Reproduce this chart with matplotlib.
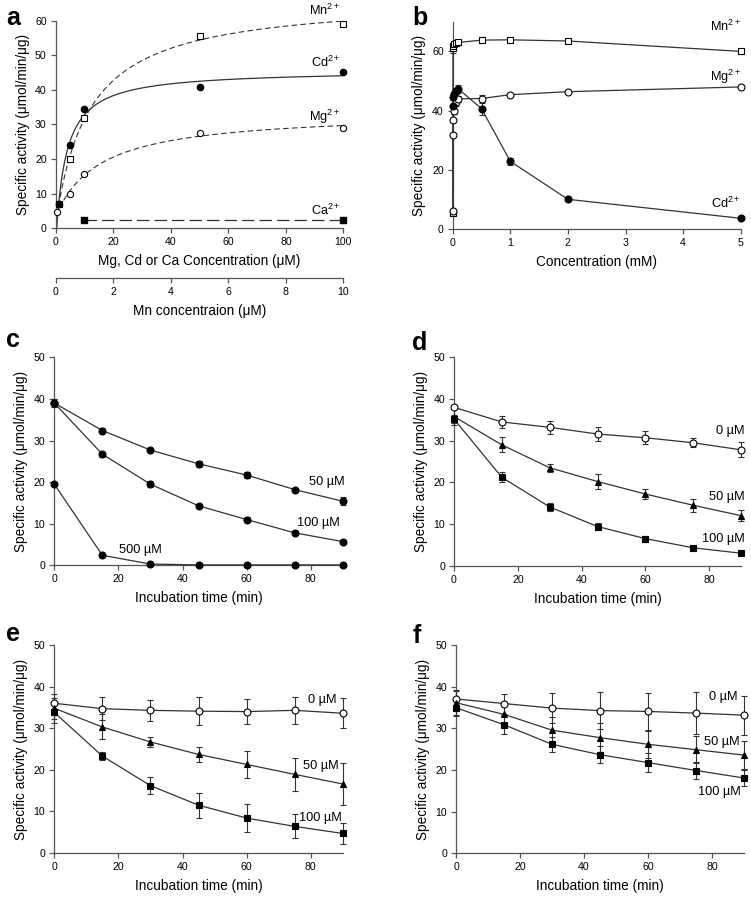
import numpy as np
import matplotlib
matplotlib.use("Agg")
import matplotlib.pyplot as plt

plt.rcParams['font.family'] = ['Liberation Sans', 'DejaVu Sans']
plt.rcParams['mathtext.fontset'] = 'custom'
plt.rcParams['mathtext.rm'] = 'Liberation Sans'
plt.rcParams['mathtext.it'] = 'Liberation Sans'

# ---------------- Data ----------------
# Panel a (Mg/Cd/Ca in uM; Mn in its own uM scale, 10x smaller)
a_mn_conc = [0.1, 0.5, 1, 5, 10]
a_mn_act = [7.0, 20.0, 32.0, 55.5, 59.0]
a_cd_conc = [1, 5, 10, 50, 100]
a_cd_act = [7.0, 24.0, 34.5, 40.7, 45.2]
a_mg_conc = [0.5, 5, 10, 50, 100]
a_mg_act = [4.8, 10.0, 15.7, 27.5, 29.0]
a_ca_conc = [10, 100]
a_ca_act = [2.5, 2.5]

# Panel b (mM)
b_mn_conc = [0, 0.005, 0.01, 0.02, 0.05, 0.1, 0.5, 1, 2, 5]
b_mn_act = [5.6, 61.0, 61.7, 62.5, 62.8, 63.0, 63.8, 63.9, 63.5, 60.0]
b_mn_err = [0.3, 1.5, 1.0, 0.8, 0.8, 1.0, 1.0, 0.3, 0.3, 0.8]
b_mg_conc = [0, 0.005, 0.01, 0.02, 0.05, 0.1, 0.5, 1, 2, 5]
b_mg_act = [6.3, 31.8, 36.7, 39.8, 43.0, 44.0, 44.1, 45.4, 46.4, 48.0]
b_mg_err = [0.3, 0.5, 0.5, 0.8, 1.5, 1.0, 1.2, 0.3, 0.3, 0.3]
b_cd_conc = [0.005, 0.01, 0.02, 0.05, 0.1, 0.5, 1, 2, 5]
b_cd_act = [41.7, 44.5, 45.6, 46.5, 47.3, 40.7, 22.9, 10.1, 3.7]
b_cd_err = [0.5, 0.8, 0.8, 1.0, 1.5, 2.0, 1.3, 0.3, 0.3]

time = [0, 15, 30, 45, 60, 75, 90]

# Panel c
c_50 = [39.0, 32.4, 27.7, 24.4, 21.7, 18.2, 15.4]
c_50_err = [1.0, 0.5, 0.4, 0.7, 0.7, 0.5, 0.9]
c_100 = [39.0, 26.7, 19.5, 14.3, 11.0, 7.8, 5.7]
c_100_err = [1.0, 0.6, 0.7, 0.4, 0.6, 0.3, 0.3]
c_500 = [19.5, 2.4, 0.3, 0.1, 0.1, 0.1, 0.1]
c_500_err = [0.3, 0.2, 0.1, 0.1, 0.1, 0.1, 0.1]

# Panel d
d_0 = [38.0, 34.5, 33.2, 31.6, 30.7, 29.5, 27.8]
d_0_err = [0.5, 1.4, 1.6, 1.6, 1.6, 1.1, 1.8]
d_50 = [35.8, 29.0, 23.5, 20.2, 17.2, 14.5, 12.0]
d_50_err = [2.0, 1.8, 0.9, 1.7, 1.3, 1.5, 1.3]
d_100 = [35.2, 21.2, 14.1, 9.4, 6.5, 4.3, 3.0]
d_100_err = [1.0, 1.2, 1.0, 0.9, 0.7, 0.5, 0.5]

# Panel e
e_0 = [36.0, 34.7, 34.3, 34.1, 34.0, 34.3, 33.6]
e_0_err = [2.2, 2.8, 2.5, 3.3, 3.0, 3.2, 3.6]
e_50 = [34.8, 30.3, 26.7, 23.7, 21.3, 18.9, 16.6]
e_50_err = [2.5, 3.0, 1.3, 1.8, 3.2, 3.9, 5.1]
e_100 = [33.8, 23.3, 16.2, 11.5, 8.4, 6.4, 4.7]
e_100_err = [2.5, 0.9, 2.0, 3.0, 3.4, 2.9, 2.6]

# Panel f
f_0 = [37.1, 36.0, 34.9, 34.3, 34.1, 33.7, 33.2]
f_0_err = [2.0, 2.4, 3.6, 4.5, 4.5, 5.0, 4.7]
f_50 = [36.2, 33.4, 29.6, 27.8, 26.2, 24.9, 23.6]
f_50_err = [3.0, 2.8, 3.2, 3.5, 3.3, 3.3, 3.3]
f_100 = [35.0, 30.9, 26.2, 23.7, 21.8, 19.9, 18.1]
f_100_err = [2.0, 2.3, 1.8, 2.0, 2.2, 2.1, 2.0]

conc_labels = ["0 µM", "50 µM", "100 µM"]
ylabel = "Specific activity (\u03bcmol/min/\u03bcg)"

# ---------------- Style ----------------
LC = '#333333'
AX_C = '#555555'
TICK_FS = 7.6
LAB_FS = 9.8
ANN_FS = 9.2
LET_FS = 18
MS = 5

fig = plt.figure(figsize=(7.51, 8.98), dpi=100)


def style(ax):
    for s in ('top', 'right'):
        ax.spines[s].set_visible(False)
    for s in ('left', 'bottom'):
        ax.spines[s].set_color(AX_C)
        ax.spines[s].set_linewidth(0.9)
    ax.tick_params(direction='out', length=3.5, width=0.9, color=AX_C,
                   labelsize=TICK_FS, pad=3)


def mm_fit(x, y):
    x = np.asarray(x, float)
    y = np.asarray(y, float)
    best = None
    for km in np.linspace(0.5, 60, 600):
        A = np.column_stack([np.ones_like(x), x / (km + x)])
        coef, *_ = np.linalg.lstsq(A, y, rcond=None)
        r = np.sum((A @ coef - y) ** 2)
        if best is None or r < best[0]:
            best = (r, km, coef)
    _, km, coef = best
    xs = np.linspace(0, 100, 400)
    return xs, coef[0] + coef[1] * xs / (km + xs)


def series(ax, x, y, err, marker, fc, ms=MS):
    cont = ax.errorbar(x, y, yerr=err, color=LC, lw=0.9, marker=marker, ms=ms,
                       mfc=fc, mec='black', mew=0.8, ecolor=LC, elinewidth=0.8,
                       capsize=2.5, capthick=0.8, zorder=3)
    for art in cont.get_children():
        art.set_clip_on(False)


# ---------------- Panel a ----------------
axa = fig.add_axes([0.0742, 0.7458, 0.3830, 0.2312])
style(axa)
mn_x = np.asarray(a_mn_conc) * 10  # Mn scale is 10x the main scale
xs, ys = mm_fit(mn_x, a_mn_act)
axa.plot(xs, ys, color=LC, lw=0.8, ls=(0, (5, 3)))
xs, ys = mm_fit(a_cd_conc, a_cd_act)
axa.plot(xs, ys, color=LC, lw=0.9, ls='-')
xs, ys = mm_fit(a_mg_conc, a_mg_act)
axa.plot(xs, ys, color=LC, lw=0.8, ls=(0, (5, 3)))
axa.plot(a_ca_conc, a_ca_act, color=LC, lw=0.9, ls=(0, (10, 4)),
         marker='s', ms=4.5, mfc='black', mec='black', clip_on=False)
axa.plot(mn_x, a_mn_act, ls='none', marker='s', ms=4.5, mfc='white', mec='black', mew=0.8,
         zorder=4, clip_on=False)
axa.plot(a_cd_conc, a_cd_act, ls='none', marker='o', ms=4.5, mfc='black', mec='black',
         zorder=4, clip_on=False)
axa.plot(a_mg_conc, a_mg_act, ls='none', marker='o', ms=4.5, mfc='white', mec='black', mew=0.8,
         zorder=4, clip_on=False)
axa.set_xlim(0, 100)
axa.set_ylim(0, 60)
axa.set_xticks(range(0, 101, 20))
axa.set_yticks(range(0, 61, 10))
axa.set_xlabel("Mg, Cd or Ca Concentration (\u03bcM)", fontsize=LAB_FS, labelpad=5)
axa.set_ylabel(ylabel, fontsize=LAB_FS)
axa.text(99, 63, "Mn$^{2+}$", ha='right', va='center', fontsize=ANN_FS, clip_on=False)
axa.text(99, 48, "Cd$^{2+}$", ha='right', va='center', fontsize=ANN_FS)
axa.text(99, 32.3, "Mg$^{2+}$", ha='right', va='center', fontsize=ANN_FS)
axa.text(99, 5.3, "Ca$^{2+}$", ha='right', va='center', fontsize=ANN_FS)
sec = axa.secondary_xaxis(-0.239, functions=(lambda v: v / 10, lambda v: v * 10))
sec.set_xticks(range(0, 11, 2))
sec.spines['bottom'].set_color(AX_C)
sec.spines['bottom'].set_linewidth(0.9)
sec.tick_params(direction='out', length=3.5, width=0.9, color=AX_C, labelsize=TICK_FS, pad=3)
sec.set_xlabel("Mn concentraion (\u03bcM)", fontsize=LAB_FS, labelpad=5)

# ---------------- Panel b ----------------
axb = fig.add_axes([0.6028, 0.7447, 0.3835, 0.2311])
style(axb)
series(axb, b_mn_conc, b_mn_act, b_mn_err, 's', 'white')
series(axb, b_mg_conc, b_mg_act, b_mg_err, 'o', 'white')
series(axb, b_cd_conc, b_cd_act, b_cd_err, 'o', 'black')
axb.set_xlim(0, 5)
axb.set_ylim(0, 70)
axb.set_yticks([0, 20, 40, 60])
axb.set_xticks(range(0, 6))
axb.set_xlabel("Concentration (mM)", fontsize=LAB_FS, labelpad=5)
axb.set_ylabel(ylabel, fontsize=LAB_FS)
axb.text(5.0, 68.3, "Mn$^{2+}$", ha='right', va='center', fontsize=ANN_FS)
axb.text(5.0, 51.3, "Mg$^{2+}$", ha='right', va='center', fontsize=ANN_FS)
axb.text(5.0, 8.6, "Cd$^{2+}$", ha='right', va='center', fontsize=ANN_FS)

# ---------------- Panels c-f ----------------
def time_panel(rect):
    ax = fig.add_axes(rect)
    style(ax)
    ax.set_xlim(0, 90)
    ax.set_ylim(0, 50)
    ax.set_xticks(range(0, 81, 20))
    ax.set_yticks(range(0, 51, 10))
    ax.set_xlabel("Incubation time (min)", fontsize=LAB_FS, labelpad=5)
    ax.set_ylabel(ylabel, fontsize=LAB_FS)
    return ax

axc = time_panel([0.0723, 0.3705, 0.3841, 0.2316])
series(axc, time, c_50, c_50_err, 'o', 'black')
series(axc, time, c_100, c_100_err, 'o', 'black')
series(axc, time, c_500, c_500_err, 'o', 'black')
axc.text(85, 20.1, "50 µM", ha='center', va='center', fontsize=ANN_FS)
axc.text(82.4, 10.1, "100 µM", ha='center', va='center', fontsize=ANN_FS)
axc.text(27, 3.7, "500 µM", ha='center', va='center', fontsize=ANN_FS)

axd = time_panel([0.6045, 0.3700, 0.3825, 0.2321])
series(axd, time, d_0, d_0_err, 'o', 'white')
series(axd, time, d_50, d_50_err, '^', 'black')
series(axd, time, d_100, d_100_err, 's', 'black')
axd.text(91, 32.4, conc_labels[0], ha='right', va='center', fontsize=ANN_FS)
axd.text(91, 16.4, conc_labels[1], ha='right', va='center', fontsize=ANN_FS)
axd.text(91, 6.4, conc_labels[2], ha='right', va='center', fontsize=ANN_FS)

axe = time_panel([0.0723, 0.0501, 0.3841, 0.2316])
series(axe, time, e_0, e_0_err, 'o', 'white')
series(axe, time, e_50, e_50_err, '^', 'black')
series(axe, time, e_100, e_100_err, 's', 'black')
axe.text(88, 36.9, conc_labels[0], ha='right', va='center', fontsize=ANN_FS)
axe.text(88.6, 20.8, conc_labels[1], ha='right', va='center', fontsize=ANN_FS)
axe.text(89.7, 8.3, conc_labels[2], ha='right', va='center', fontsize=ANN_FS)

axf = time_panel([0.6072, 0.0498, 0.3835, 0.2316])
series(axf, time, f_0, f_0_err, 'o', 'white')
series(axf, time, f_50, f_50_err, '^', 'black')
series(axf, time, f_100, f_100_err, 's', 'black')
axf.text(88.1, 37.5, conc_labels[0], ha='right', va='center', fontsize=ANN_FS)
axf.text(88.7, 26.8, conc_labels[1], ha='right', va='center', fontsize=ANN_FS)
axf.text(89, 14.8, conc_labels[2], ha='right', va='center', fontsize=ANN_FS)

# Panel letters (pixel positions from top-left)
for letter, px, py in [('a', 6, 18), ('b', 412, 18), ('c', 6, 340), ('d', 412, 343),
                       ('e', 6, 634), ('f', 413, 636)]:
    fig.text(px / 751, 1 - py / 898, letter, fontsize=LET_FS, fontweight='bold',
             ha='left', va='center')

fig.savefig("out.png", dpi=100)
